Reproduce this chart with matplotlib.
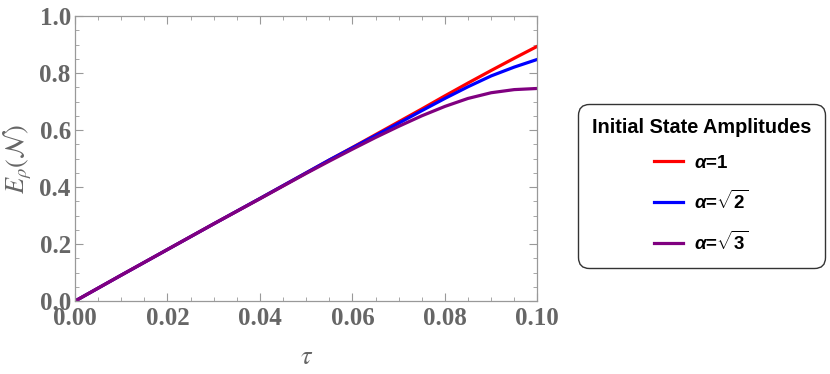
import matplotlib.pyplot as plt
from matplotlib.ticker import MultipleLocator

# tau values and E_rho(N) for the three initial amplitudes
tau = [0.0, 0.01, 0.02, 0.03, 0.04, 0.05, 0.055, 0.06, 0.065, 0.07,
       0.075, 0.08, 0.085, 0.09, 0.095, 0.1]
e_alpha1 = [0.0, 0.091, 0.181, 0.271, 0.360, 0.450, 0.495, 0.539, 0.584, 0.629,
            0.674, 0.720, 0.765, 0.809, 0.852, 0.894]
e_alpha_sqrt2 = [0.0, 0.091, 0.181, 0.271, 0.360, 0.450, 0.495, 0.538, 0.581, 0.624,
                 0.668, 0.711, 0.752, 0.790, 0.821, 0.848]
e_alpha_sqrt3 = [0.0, 0.091, 0.181, 0.271, 0.359, 0.448, 0.491, 0.533, 0.574, 0.613,
                 0.650, 0.683, 0.711, 0.731, 0.742, 0.746]

labels = [r"$\mathit{\alpha}$=1",
          r"$\mathit{\alpha}$=$\sqrt{\mathbf{2}}$",
          r"$\mathit{\alpha}$=$\sqrt{\mathbf{3}}$"]
colors = ["#ff0000", "#0000ff", "#800080"]

gray = "#666666"
plt.rcParams["mathtext.fontset"] = "custom"
plt.rcParams["mathtext.it"] = "Liberation Sans:italic:bold"
plt.rcParams["mathtext.bf"] = "Liberation Sans:bold"
plt.rcParams["mathtext.rm"] = "Liberation Sans:bold"

fig = plt.figure(figsize=(8.3, 3.74), dpi=100)
ax = fig.add_axes([0.0904, 0.195, 0.557, 0.762])

for ys, c, lab in zip([e_alpha1, e_alpha_sqrt2, e_alpha_sqrt3], colors, labels):
    ax.plot(tau, ys, color=c, lw=2.3, label=lab)

ax.set_xlim(0, 0.1)
ax.set_ylim(0, 1.0)
ax.xaxis.set_major_locator(MultipleLocator(0.02))
ax.xaxis.set_minor_locator(MultipleLocator(0.005))
ax.yaxis.set_major_locator(MultipleLocator(0.2))
ax.yaxis.set_minor_locator(MultipleLocator(0.05))
ax.xaxis.set_major_formatter(lambda v, p: "%.2f" % v)
ax.yaxis.set_major_formatter(lambda v, p: "%.1f" % v)

ax.tick_params(which="both", direction="in", top=True, right=True, color="#999999")
ax.tick_params(which="major", length=6, width=0.8)
ax.tick_params(which="minor", length=3, width=0.6)
ax.tick_params(labelsize=18, labelcolor=gray)
ax.tick_params(axis="x", pad=4)
ax.tick_params(axis="y", pad=3)
for t in ax.get_xticklabels() + ax.get_yticklabels():
    t.set_fontfamily("Liberation Serif")
    t.set_fontweight("bold")
for s in ax.spines.values():
    s.set_color("#999999")
    s.set_linewidth(0.9)

ax.set_xlabel(r"$\tau$", fontsize=19, color=gray, labelpad=10)
ax.set_ylabel(r"$E_\rho(\mathcal{N})$", fontsize=19, color=gray, labelpad=4)
ax.xaxis.label.set_math_fontfamily("stix")
ax.yaxis.label.set_math_fontfamily("stix")

leg = fig.legend(loc="center", bbox_to_anchor=(0.845, 0.503), frameon=True,
                 title="Initial State Amplitudes", alignment="center",
                 prop={"family": "Liberation Sans", "weight": "bold", "size": 13.5},
                 title_fontproperties={"family": "Liberation Sans", "weight": "bold", "size": 14.3},
                 handlelength=1.5, handletextpad=0.6, labelspacing=0.95,
                 borderpad=0.75, fancybox=True)
frame = leg.get_frame()
frame.set_edgecolor("black")
frame.set_linewidth(1.0)
frame.set_boxstyle("round", pad=0.0, rounding_size=0.6)
for line in leg.get_lines():
    line.set_linewidth(2.3)

fig.savefig("out.png", dpi=100)
